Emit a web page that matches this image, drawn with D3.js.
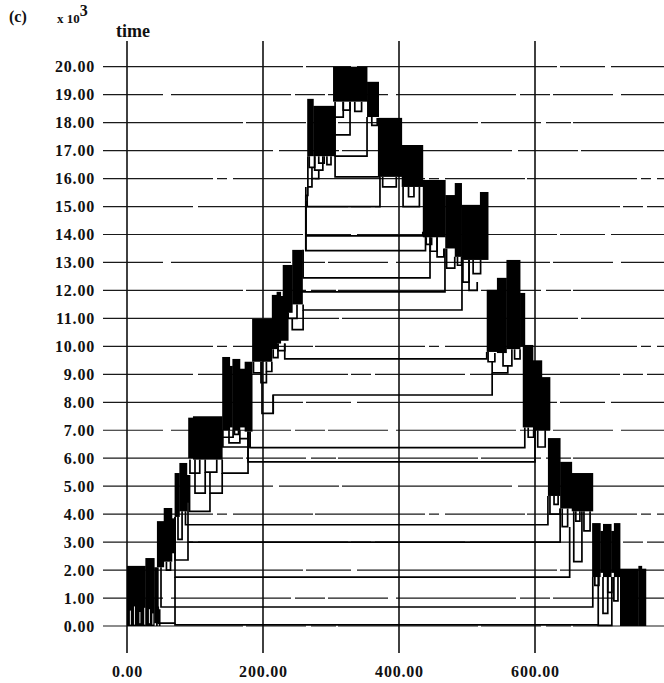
<!DOCTYPE html>
<html>
<head>
<meta charset="utf-8">
<script src="https://cdn.jsdelivr.net/npm/d3@7/dist/d3.min.js"></script>
<style>
  body { margin: 0; background: #fff; }
  svg { display: block; }
  .tick text { font-family: "Liberation Serif", "DejaVu Serif", serif; font-weight: bold; font-size: 16px; letter-spacing: 0.8px; fill: #111; }
</style>
</head>
<body>
<div id="chart"></div>
<script>
// time axis (x 10^3) and position axis
const timeTicks = d3.range(0, 21);
const posTicks = [0, 200, 400, 600];

// dense clusters of lineages: [x0, x1, tBottom, tTop]
const blobs = [
  [0, 27, 0, 2.15], [27, 40, 0, 2.43], [40, 46, 0.1, 2.1],
  [44, 54, 2.1, 3.75], [54, 66, 2.3, 4.22], [66, 71, 2.6, 3.85],
  [70, 77, 3.9, 5.47], [77, 88, 4.1, 5.83], [88, 92, 4.4, 5.4],
  [90, 97, 6.0, 7.45], [97, 140, 5.95, 7.5],
  [140, 151, 7.0, 9.62], [151, 155, 7.1, 9.3], [155, 166, 7.0, 9.55], [166, 173, 7.1, 9.2], [173, 184, 6.95, 9.45],
  [184, 213, 9.45, 10.98], [213, 220, 9.9, 11.84], [220, 226, 10.1, 11.95], [226, 237, 10.2, 11.8],
  [229, 243, 11.2, 12.91], [243, 258, 11.5, 13.45],
  [265, 274, 16.8, 18.85], [274, 306, 16.8, 18.6],
  [303, 353, 18.75, 20.0], [353, 370, 18.2, 19.46],
  [369, 404, 16.06, 18.17], [404, 435, 15.7, 17.2],
  [435, 468, 13.9, 15.95], [468, 482, 13.5, 15.41], [482, 492, 13.2, 15.84], [492, 519, 13.09, 15.06], [519, 531, 13.09, 15.52],
  [529, 544, 9.8, 12.02], [544, 558, 9.76, 12.45], [558, 578, 9.9, 13.09], [578, 585, 10.0, 11.91],
  [582, 597, 7.1, 10.05], [597, 610, 7.0, 9.5], [610, 622, 7.0, 8.9],
  [619, 637, 4.65, 6.72], [637, 654, 4.2, 5.87], [654, 685, 4.1, 5.47],
  [684, 696, 1.75, 3.68], [696, 700, 1.9, 3.4], [700, 712, 1.75, 3.65], [712, 716, 1.9, 3.4], [716, 725, 1.75, 3.68],
  [725, 752, 0, 2.05], [752, 757, 0, 2.15], [757, 763, 0, 2.05]
];

// coalescences: [xLeft, xRight, tJoin, tLeftTop, tRightTop]
const links = [
  // long connectors across the range
  [70.6, 693, 0.04, 0.1, 0.04],
  [46, 70.6, 0.1, 0.7, 1.75],
  [50, 685, 0.68, 2.1, 1.75],
  [70.6, 651, 1.75, 3.9, 3.54],
  [89.7, 637, 3.0, 4.4, 4.2],
  [86, 619, 3.62, 4.1, 4.65],
  [178, 600, 5.87, 6.95, 7.0],
  [181, 585, 6.38, 6.95, 7.1],
  [215, 537, 8.26, 7.6, 9.05],
  [232, 529, 9.55, 10.1, 9.8],
  [259, 492.6, 11.3, 11.5, 13.09],
  [254, 467.6, 11.95, 12.3, 13.5],
  [259, 445.6, 12.45, 13.45, 13.9],
  [263, 439, 13.42, 15.2, 15.7],
  [263, 435, 13.95, 15.2, 14.1],
  [265, 372, 15.0, 15.4, 16.06],
  // lower left
  [58, 64, 2.0, 2.3, 2.3],
  [70.6, 89.7, 2.36, 3.9, 3.0],
  [75, 81, 3.1, 3.9, 4.1],
  [92.6, 107, 5.47, 5.95, 5.95],
  [115, 132, 5.5, 5.95, 5.95],
  [100, 115, 4.75, 5.95, 5.5],
  [122, 140, 4.75, 5.5, 5.47],
  [92, 122, 4.1, 5.4, 4.75],
  [140, 178, 5.47, 5.95, 6.95],
  [141, 156, 6.75, 7.0, 7.0],
  [166, 178, 6.7, 7.0, 6.95],
  [150, 166, 6.55, 7.0, 6.7],
  [141, 181, 6.4, 6.75, 6.95],
  [158, 164, 6.85, 7.0, 7.0],
  // middle left
  [198.5, 215, 7.6, 9.45, 8.26],
  [186, 197, 9.05, 9.45, 9.45],
  [205, 213, 9.1, 9.45, 9.45],
  [197, 205, 8.7, 9.05, 9.1],
  [215, 222, 9.6, 9.9, 10.1],
  [237, 250, 11.0, 11.2, 11.5],
  [243, 259, 10.6, 11.0, 11.3],
  [222, 232, 9.85, 10.1, 10.1],
  // top
  [268, 276, 16.4, 16.8, 16.8],
  [276, 288, 16.3, 16.8, 16.8],
  [282, 290, 16.55, 16.8, 16.8],
  [272, 282, 16.0, 16.4, 16.3],
  [266, 272, 15.7, 16.8, 16.0],
  [263, 266, 15.4, 15.7, 15.7],
  [294, 300, 16.5, 16.8, 16.8],
  [306, 318, 18.2, 18.75, 18.75],
  [318, 328, 18.45, 18.75, 18.75],
  [335, 345, 18.4, 18.75, 18.75],
  [306, 328, 17.56, 18.2, 18.75],
  [306, 353, 16.8, 17.56, 18.2],
  [306, 372, 16.06, 16.8, 16.06],
  [360, 368, 17.9, 18.2, 18.17],
  [376, 396, 15.7, 16.06, 16.06],
  [406, 430, 15.0, 15.7, 15.7],
  [414, 422, 15.35, 15.7, 15.7],
  // right descent
  [440, 448, 13.65, 13.9, 13.9],
  [446, 456, 13.4, 13.9, 13.9],
  [456, 466, 13.2, 13.9, 13.5],
  [470, 482, 12.8, 13.5, 13.2],
  [486, 492, 12.9, 13.2, 13.2],
  [494, 503, 12.3, 13.09, 13.09],
  [503, 515, 12.0, 13.09, 12.3],
  [509, 520, 12.6, 13.09, 13.09],
  [531, 541, 9.45, 9.8, 9.76],
  [553, 566, 9.3, 9.9, 9.9],
  [570, 578, 9.55, 9.9, 9.9],
  [537, 560, 9.05, 9.45, 9.3],
  [590, 598, 6.75, 7.1, 7.0],
  [604, 615, 6.4, 7.0, 7.0],
  [622, 637, 4.0, 4.65, 4.2],
  [628, 634, 4.35, 4.65, 4.65],
  [640, 648, 3.55, 4.2, 4.2],
  [657, 669, 2.3, 4.1, 4.1],
  [660, 666, 3.75, 4.1, 4.1],
  [672, 681, 3.4, 4.1, 4.1],
  [688, 694, 1.45, 1.75, 1.75],
  [707, 713, 1.2, 1.75, 1.75],
  [700, 707, 0.45, 1.75, 1.75],
  [693, 713, 0.02, 1.75, 1.75],
  [716, 722, 0.9, 1.75, 1.75]
];

// single lineage stems: [x, t0, t1]
const stems = [[263, 13.42, 15.4], [44, 0, 0.7], [48, 0, 0.6]];
// light slits inside the bottom-left cluster: [x, t0, t1]
const slits = [[5, 0.05, 0.55], [11, 0.05, 0.7], [19, 0.1, 0.5], [26, 0.05, 0.65], [33, 0.1, 0.6], [38, 0.05, 0.45]];

const W = 664, H = 683;
const x = d3.scaleLinear().domain([0, 600]).range([127, 535]);
const y = d3.scaleLinear().domain([0, 20]).range([626, 66.7]);

const svg = d3.select("#chart").append("svg").attr("width", W).attr("height", H);
const serif = '"Liberation Serif", "DejaVu Serif", serif';

// horizontal grid, slightly broken like the scanned original
const dashes = ["140,3,60,5,25,2", "60,8,120,4,30,3", "200,3,45,6", "90,5,150,3,20,4", "110,4,10,6,80,2", "170,6,60,3"];
svg.append("g").selectAll("line").data(timeTicks).join("line")
  .attr("x1", 103).attr("x2", W)
  .attr("y1", d => y(d)).attr("y2", d => y(d))
  .attr("stroke", "#1a1a1a").attr("stroke-width", 1.2)
  .attr("stroke-dasharray", (d, i) => dashes[i % dashes.length]);

// vertical lines at the x ticks
svg.append("g").selectAll("line").data(posTicks).join("line")
  .attr("x1", d => x(d)).attr("x2", d => x(d))
  .attr("y1", 41).attr("y2", 653)
  .attr("stroke", "#111").attr("stroke-width", 1.6);

// clusters
svg.append("g").selectAll("rect").data(blobs).join("rect")
  .attr("x", d => x(d[0])).attr("width", d => x(d[1]) - x(d[0]) + 0.4)
  .attr("y", d => y(d[3])).attr("height", d => y(d[2]) - y(d[3]))
  .attr("fill", "#000");

svg.append("g").selectAll("line").data(slits).join("line")
  .attr("x1", d => x(d[0])).attr("x2", d => x(d[0]))
  .attr("y1", d => y(d[1])).attr("y2", d => y(d[2]))
  .attr("stroke", "#fff").attr("stroke-width", 0.9);

// coalescence connectors
svg.append("g").selectAll("path").data(links).join("path")
  .attr("d", d => `M${x(d[0])},${y(d[3])}V${y(d[2])}H${x(d[1])}V${y(d[4])}`)
  .attr("fill", "none").attr("stroke", "#000").attr("stroke-width", 1.7);

svg.append("g").selectAll("line").data(stems).join("line")
  .attr("x1", d => x(d[0])).attr("x2", d => x(d[0]))
  .attr("y1", d => y(d[1])).attr("y2", d => y(d[2]))
  .attr("stroke", "#000").attr("stroke-width", 1.8);

// axes (labels only)
const yAxis = svg.append("g").attr("transform", "translate(97,0)")
  .call(d3.axisLeft(y).tickValues(timeTicks).tickFormat(d3.format(".2f")).tickSize(0).tickPadding(2));
yAxis.select(".domain").remove();

const xAxis = svg.append("g").attr("transform", "translate(0,666)")
  .call(d3.axisBottom(x).tickValues(posTicks).tickFormat(d3.format(".2f")).tickSize(0).tickPadding(0));
xAxis.select(".domain").remove();

// labels
svg.append("text").attr("x", 9).attr("y", 22).attr("font-family", serif)
  .attr("font-size", 16).attr("font-weight", "bold").attr("fill", "#111").text("(c)");
const mult = svg.append("text").attr("x", 57).attr("y", 23).attr("font-family", serif)
  .attr("font-size", 13).attr("font-weight", "bold").attr("fill", "#111");
mult.append("tspan").text("x 10");
mult.append("tspan").attr("dy", -7).attr("font-size", 16).text("3");
svg.append("text").attr("x", 116).attr("y", 37).attr("font-family", serif)
  .attr("font-size", 18).attr("font-weight", "bold").attr("fill", "#111").text("time");
</script>
</body>
</html>
